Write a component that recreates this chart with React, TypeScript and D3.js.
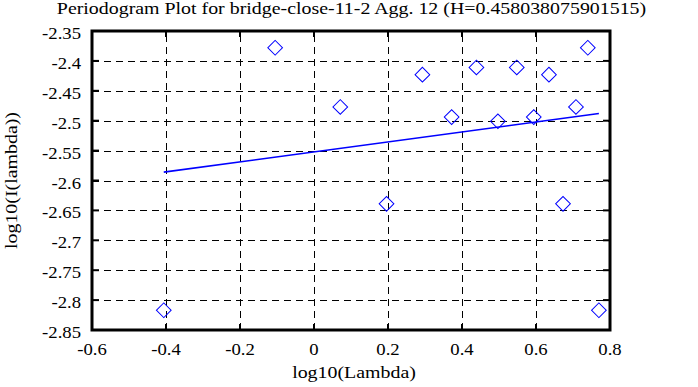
import React, { useEffect, useRef } from "react";
import * as d3 from "d3";

// periodogram points
const logLambda = [
  -0.406, -0.105, 0.071, 0.196, 0.293, 0.372, 0.439, 0.497, 0.548, 0.594,
  0.635, 0.673, 0.708, 0.74, 0.77,
];
const logI = [
  -2.817, -2.378, -2.477, -2.639, -2.423, -2.494, -2.411, -2.501, -2.411,
  -2.494, -2.423, -2.639, -2.477, -2.378, -2.817,
];
// fitted line ends
const fitX = [-0.406, 0.77];
const fitY = [-2.586, -2.488];

const xTicks = [-0.6, -0.4, -0.2, 0, 0.2, 0.4, 0.6, 0.8];
const yTicks = [-2.35, -2.4, -2.45, -2.5, -2.55, -2.6, -2.65, -2.7, -2.75, -2.8, -2.85];

const title = "Periodogram Plot for bridge-close-11-2 Agg. 12 (H=0.458038075901515)";

export default function App() {
  const ref = useRef<SVGSVGElement>(null);
  const width = 698;
  const height = 387;
  const margin = { top: 31, right: 88, bottom: 57, left: 92 };

  useEffect(() => {
    const svg = d3.select(ref.current);
    svg.selectAll("*").remove();

    const x = d3.scaleLinear().domain([-0.6, 0.8]).range([margin.left, width - margin.right]);
    const y = d3.scaleLinear().domain([-2.85, -2.35]).range([height - margin.bottom, margin.top]);

    svg.append("rect").attr("width", width).attr("height", height).attr("fill", "#fff");

    // grid
    const grid = svg.append("g").attr("stroke", "#000").attr("stroke-width", 1).attr("stroke-dasharray", "7,5");
    grid.selectAll("line.v")
      .data(xTicks.slice(1, -1))
      .join("line")
      .attr("x1", (d) => Math.round(x(d)) + 0.5)
      .attr("x2", (d) => Math.round(x(d)) + 0.5)
      .attr("y1", y(-2.85))
      .attr("y2", y(-2.35));
    grid.selectAll("line.h")
      .data(yTicks.slice(1, -1))
      .enter()
      .append("line")
      .attr("x1", x(-0.6))
      .attr("x2", x(0.8))
      .attr("y1", (d) => Math.round(y(d)) + 0.5)
      .attr("y2", (d) => Math.round(y(d)) + 0.5);

    // tick marks on all four sides
    const ticks = svg.append("g").attr("stroke", "#000").attr("stroke-width", 2);
    xTicks.slice(1, -1).forEach((d) => {
      ticks.append("line").attr("x1", x(d)).attr("x2", x(d)).attr("y1", y(-2.85)).attr("y2", y(-2.85) - 6);
      ticks.append("line").attr("x1", x(d)).attr("x2", x(d)).attr("y1", y(-2.35)).attr("y2", y(-2.35) + 6);
    });
    yTicks.slice(1, -1).forEach((d) => {
      ticks.append("line").attr("x1", x(-0.6)).attr("x2", x(-0.6) + 7).attr("y1", y(d)).attr("y2", y(d));
      ticks.append("line").attr("x1", x(0.8)).attr("x2", x(0.8) - 7).attr("y1", y(d)).attr("y2", y(d));
    });

    // frame
    svg.append("rect")
      .attr("x", x(-0.6))
      .attr("y", y(-2.35))
      .attr("width", x(0.8) - x(-0.6))
      .attr("height", y(-2.85) - y(-2.35))
      .attr("fill", "none")
      .attr("stroke", "#000")
      .attr("stroke-width", 3);

    // fit line
    const line = d3.line<number>().x((d, i) => x(fitX[i])).y((d) => y(d));
    svg.append("path")
      .attr("d", line(fitY))
      .attr("fill", "none")
      .attr("stroke", "#0000ff")
      .attr("stroke-width", 1.6);

    // diamonds
    const sym = d3.symbol().type(d3.symbolSquare).size(108);
    svg.append("g")
      .selectAll("path")
      .data(logLambda)
      .join("path")
      .attr("d", sym)
      .attr("transform", (d, i) => `translate(${x(d)},${y(logI[i])}) rotate(45)`)
      .attr("fill", "none")
      .attr("stroke", "#0000ff")
      .attr("stroke-width", 1);

    const txt = svg.append("g")
      .style("font-family", "Liberation Serif")
      .style("font-size", "17px")
      .attr("fill", "#000");

    // the original font is wider than Times, so stretch it a bit
    const label = (tx: number, ty: number, s: string, anchor: string, sx: number, rot = 0) =>
      txt.append("text")
        .attr("transform", `translate(${tx},${ty}) rotate(${rot}) scale(${sx},1)`)
        .attr("text-anchor", anchor)
        .text(s);

    // tick labels
    xTicks.forEach((d) => label(x(d), y(-2.85) + 25, String(d), "middle", 1.1));
    yTicks.forEach((d) => label(x(-0.6) - 11, y(d) + 8, String(d), "end", 1.1));

    // titles
    label(351.5, 14, title, "middle", 1.17);
    label(354, 378, "log10(Lambda)", "middle", 1.17);
    label(17, (y(-2.35) + y(-2.85)) / 2, "log10(I(lambda))", "middle", 1.17, -90);
  }, []);

  return (
    <svg
      ref={ref}
      width={width}
      height={height}
      style={{ position: "absolute", left: 0, top: 0 }}
    />
  );
}
